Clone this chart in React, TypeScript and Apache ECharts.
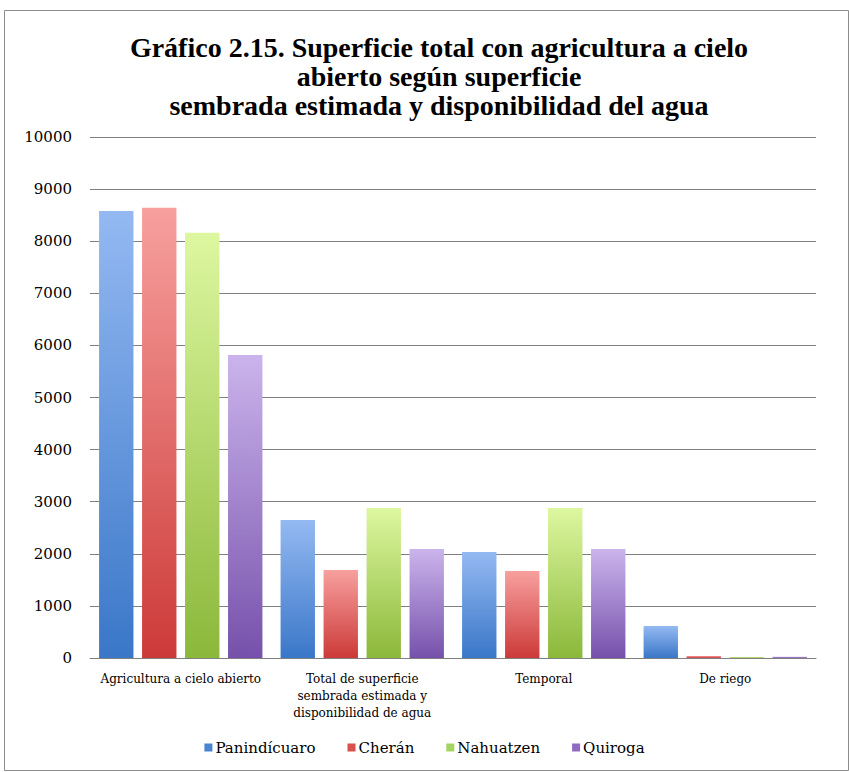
import React, { useEffect, useRef } from "react";
import * as echarts from "echarts";

const titleText = "Gráfico 2.15. Superficie total con agricultura a cielo\nabierto según superficie\nsembrada estimada y disponibilidad del agua";
const categories = [
  "Agricultura a cielo abierto",
  "Total de superficie\nsembrada estimada y\ndisponibilidad de agua",
  "Temporal",
  "De riego",
];
const seriesNames = ["Panindícuaro", "Cherán", "Nahuatzen", "Quiroga"];
const panindicuaro = [8580, 2650, 2035, 615];
const cheran = [8640, 1690, 1670, 40];
const nahuatzen = [8160, 2880, 2880, 20];
const quiroga = [5815, 2090, 2090, 25];
const seriesValues = [panindicuaro, cheran, nahuatzen, quiroga];
const yTicks = { min: 0, max: 10000, interval: 1000 };

const colorsTop = ["#94b9f2", "#f7a09e", "#ddf7a0", "#cbb4ec"];
const colorsBottom = ["#3a77c8", "#cc3a38", "#8bb83a", "#7651ab"];
const legendColors = ["#4a84d0", "#d9504d", "#a6d460", "#8f6cc0"];

export default function App() {
  const ref = useRef<HTMLDivElement>(null);
  useEffect(() => {
    if (!ref.current) return;
    const chart = echarts.init(ref.current, null, { renderer: "svg" });
    const font = "'Liberation Serif', serif";
    const wide = "'DejaVu Serif', serif";
    chart.setOption({
      animation: false,
      backgroundColor: "#ffffff",
      title: {
        text: titleText,
        left: 434,
        textAlign: "center",
        top: 28,
        textStyle: {
          fontFamily: font,
          fontWeight: "bold",
          fontSize: 28,
          lineHeight: 29,
          color: "#000",
        },
      },
      graphic: [
        {
          type: "rect",
          shape: { x: 4.5, y: 10.5, width: 844, height: 760 },
          style: { fill: "none", stroke: "#8c8c8c", lineWidth: 1 },
          silent: true,
        },
      ],
      legend: {
        data: seriesNames.map((n, i) => ({ name: n, itemStyle: { color: legendColors[i] } })),
        bottom: 12,
        left: "center",
        itemWidth: 8,
        itemHeight: 8,
        itemGap: 32,
        icon: "rect",
        textStyle: { fontFamily: wide, fontSize: 15, color: "#000", padding: [0, 0, 0, -2] },
      },
      grid: { left: 90, right: 33, top: 137, bottom: 114 },
      xAxis: {
        type: "category",
        data: categories,
        axisLine: { lineStyle: { color: "#808080" } },
        axisTick: { show: false },
        axisLabel: {
          fontFamily: wide,
          fontSize: 12,
          lineHeight: 17,
          color: "#000",
          margin: 12,
          interval: 0,
        },
      },
      yAxis: {
        type: "value",
        min: yTicks.min,
        max: yTicks.max,
        interval: yTicks.interval,
        axisLine: { show: false },
        axisTick: { show: false },
        axisLabel: {
          fontFamily: wide,
          fontSize: 15,
          color: "#000",
          margin: 18,
          formatter: (v: number) => String(v),
        },
        splitLine: { lineStyle: { color: "#808080", width: 1 } },
      },
      series: seriesNames.map((name, i) => ({
        name,
        type: "bar",
        data: seriesValues[i],
        barGap: "25%",
        barCategoryGap: "10%",
        itemStyle: {
          color: new echarts.graphic.LinearGradient(0, 0, 0, 1, [
            { offset: 0, color: colorsTop[i] },
            { offset: 1, color: colorsBottom[i] },
          ]),
        },
      })),
    });
    return () => chart.dispose();
  }, []);
  return (
    <div
      ref={ref}
      style={{ position: "absolute", left: 0, top: 0, width: 849, height: 772 }}
    />
  );
}
